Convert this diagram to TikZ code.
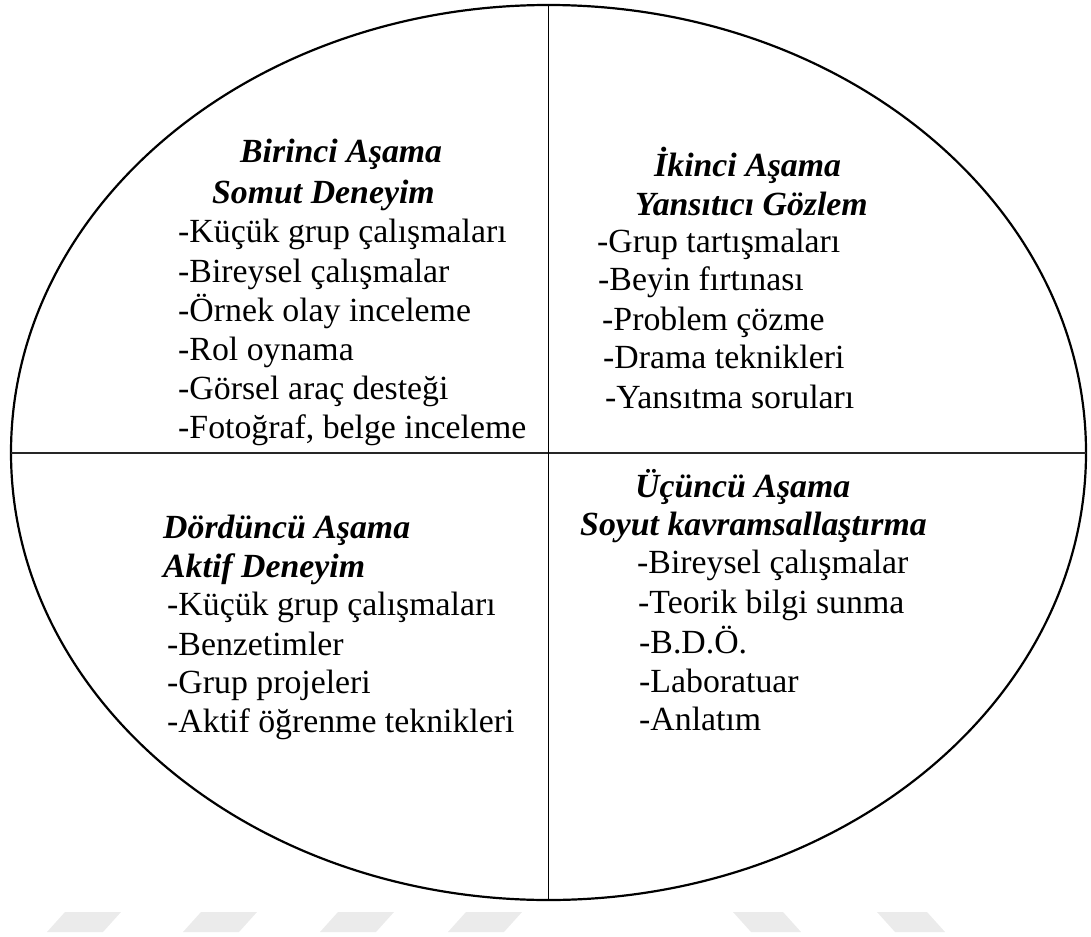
\documentclass[tikz,border=0pt]{standalone}
\usepackage{fontspec}
\setmainfont{Liberation Serif}
\usetikzlibrary{shapes.geometric}
\begin{document}
\begin{tikzpicture}[x=1pt,y=-1pt,
  txt/.style={anchor=base west,inner sep=0pt,font=\fontsize{33.8}{38.5}\selectfont},
  head/.style={txt,font=\fontsize{33.8}{38.5}\selectfont\bfseries\itshape},
  wm/.style={fill=black!8,draw=none}]
\useasboundingbox (0,0) rectangle (1091,936);
% ellipse and dividers
\node[draw,line width=2.2pt,ellipse,minimum width=1075pt,minimum height=895pt,inner sep=0pt,outer sep=0pt] (E) at (548.5,452.5) {};
\draw[line width=2pt,black!85] (E.west) -- (E.east);
\draw[line width=1.5pt] (E.north) -- (E.south);
% quadrant 1
\node[head] (a1) at (240,163) {Birinci Aşama};
\node[head] (a2) at (212,203) {Somut Deneyim};
\node[txt] (a3) at (178,242) {-Küçük grup çalışmaları};
\node[txt] (a4) at (178,282) {-Bireysel çalışmalar};
\node[txt] (a5) at (178,321) {-Örnek olay inceleme};
\node[txt] (a6) at (178,360) {-Rol oynama};
\node[txt] (a7) at (178,399) {-Görsel araç desteği};
\node[txt] (a8) at (178,438) {-Fotoğraf, belge inceleme};
% quadrant 2
\node[head] (b1) at (654,177) {İkinci Aşama};
\node[head] (b2) at (635,215) {Yansıtıcı Gözlem};
\node[txt] (b3) at (597,252) {-Grup tartışmaları};
\node[txt] (b4) at (598,290) {-Beyin fırtınası};
\node[txt] (b5) at (602,330) {-Problem çözme};
\node[txt] (b6) at (603,368) {-Drama teknikleri};
\node[txt] (b7) at (605,408) {-Yansıtma soruları};
% quadrant 3
\node[head] (c1) at (163,538) {Dördüncü Aşama};
\node[head] (c2) at (163,577) {Aktif Deneyim};
\node[txt] (c3) at (167,615) {-Küçük grup çalışmaları};
\node[txt] (c4) at (167,655) {-Benzetimler};
\node[txt] (c5) at (167,693) {-Grup projeleri};
\node[txt] (c6) at (167,732) {-Aktif öğrenme teknikleri};
% quadrant 4
\node[head] (d1) at (635,497) {Üçüncü Aşama};
\node[head] (d2) at (580,535) {Soyut kavramsallaştırma};
\node[txt] (d3) at (637,573) {-Bireysel çalışmalar};
\node[txt] (d4) at (638,613) {-Teorik bilgi sunma};
\node[txt] (d5) at (639,653) {-B.D.Ö.};
\node[txt] (d6) at (639,692) {-Laboratuar};
\node[txt] (d7) at (639,730) {-Anlatım};
% watermark
\foreach \x in {47,183,320,448}
  \fill[wm] (\x,932) -- ++(56,0) -- ++(18,-20) -- ++(-56,0) -- cycle;
\foreach \x in {733,877}
  \fill[wm] (\x,912) -- ++(50,0) -- ++(18,20) -- ++(-50,0) -- cycle;
\end{tikzpicture}
\end{document}
